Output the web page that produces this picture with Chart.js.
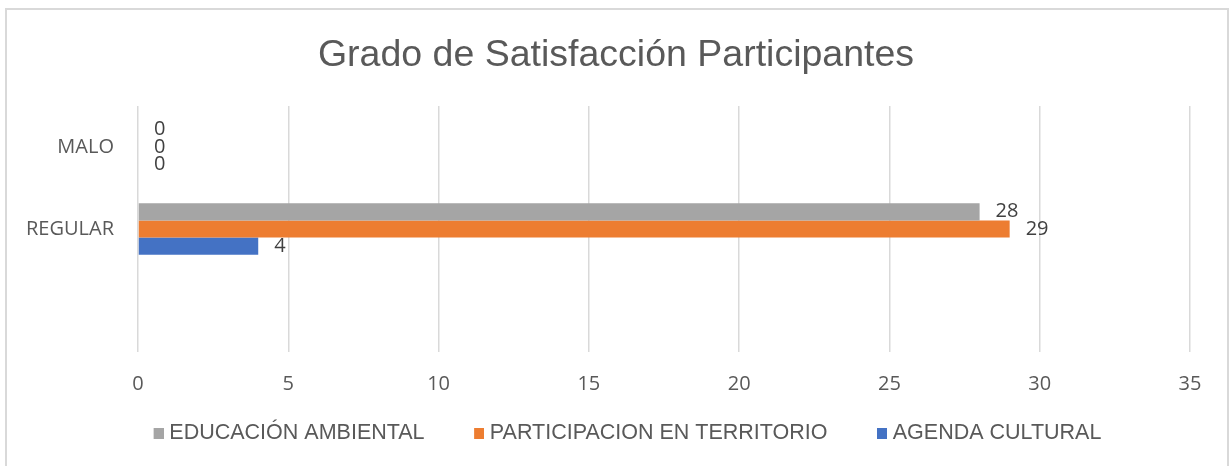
<!DOCTYPE html>
<html>
<head>
<meta charset="utf-8">
<script src="https://cdn.jsdelivr.net/npm/chart.js@4"></script>
<style>
    body { margin: 0; background: #ffffff; }
</style>
</head>
<body>
<canvas id="grafica" width="1232" height="466"></canvas>
<script>
const categorias = ['MALO', 'REGULAR', '']
const educacionAmbiental = [0, 28, null]
const participacionTerritorio = [0, 29, null]
const agendaCultural = [0, 4, null]
const ticksX = [0, 5, 10, 15, 20, 25, 30, 35]

// cuadrito de la leyenda con espacio transparente a la izquierda
function imagenLeyenda(color) {
    const c = document.createElement('canvas')
    c.width = 38
    c.height = 11
    const g = c.getContext('2d')
    g.fillStyle = color
    g.fillRect(28, 0, 10, 11)
    return c
}

// marco gris alrededor del grafico
const marco = {
    id: 'marco',
    beforeDraw(chart) {
        const ctx = chart.ctx
        ctx.save()
        ctx.strokeStyle = '#d9d9d9'
        ctx.lineWidth = 2
        ctx.strokeRect(6, 9, 1222, 470)
        ctx.restore()
    }
}

// etiquetas con el valor al final de cada barra
const etiquetas = {
    id: 'etiquetas',
    afterDatasetsDraw(chart) {
        const ctx = chart.ctx
        ctx.save()
        ctx.font = '20px "Open Sans"'
        ctx.fillStyle = '#404040'
        ctx.textAlign = 'left'
        ctx.textBaseline = 'middle'
        chart.data.datasets.forEach((ds, i) => {
            const meta = chart.getDatasetMeta(i)
            meta.data.forEach((barra, j) => {
                const valor = ds.data[j]
                if (valor === null || valor === undefined) return
                ctx.fillText(valor, barra.x + 16, barra.y)
            })
        })
        ctx.restore()
    }
}

let ctx = document.getElementById('grafica').getContext('2d')

let grafica = new Chart(ctx, {
    type: 'bar',
    data: {
        labels: categorias,
        datasets: [{
            label: 'EDUCACIÓN AMBIENTAL',
            data: educacionAmbiental,
            backgroundColor: '#a5a5a5',
            pointStyle: imagenLeyenda('#a5a5a5')
        }, {
            label: 'PARTICIPACION EN TERRITORIO',
            data: participacionTerritorio,
            backgroundColor: '#ed7d31',
            pointStyle: imagenLeyenda('#ed7d31')
        }, {
            label: 'AGENDA CULTURAL',
            data: agendaCultural,
            backgroundColor: '#4472c4',
            pointStyle: imagenLeyenda('#4472c4')
        }]
    },
    options: {
        indexAxis: 'y',
        responsive: false,
        animation: false,
        devicePixelRatio: 1,
        categoryPercentage: 0.63,
        barPercentage: 1,
        layout: {
            padding: { left: 0, right: 0, top: 0, bottom: 12 }
        },
        plugins: {
            title: {
                display: true,
                text: 'Grado de Satisfacción Participantes',
                color: '#595959',
                font: { family: '"Liberation Sans", Arial', size: 37.5, weight: 'normal' },
                padding: { top: 33, bottom: 28 }
            },
            legend: {
                position: 'bottom',
                labels: {
                    usePointStyle: true,
                    pointStyleWidth: 28,
                    boxHeight: 11,
                    padding: 26.5,
                    color: '#595959',
                    font: { family: '"Liberation Sans", Arial', size: 21.5 }
                }
            },
            tooltip: { enabled: false }
        },
        scales: {
            x: {
                min: 0,
                max: 35,
                afterBuildTicks: (escala) => {
                    escala.ticks = ticksX.map(v => ({ value: v }))
                },
                afterFit: (escala) => { escala.height = 44 },
                grid: { color: '#d9d9d9', lineWidth: 1.5, drawTicks: false },
                border: { display: false },
                ticks: {
                    color: '#595959',
                    padding: 20,
                    font: { family: '"Open Sans"', size: 20 }
                }
            },
            y: {
                afterFit: (escala) => { escala.width = 138 },
                grid: { display: false, drawTicks: false },
                border: { display: false },
                ticks: {
                    color: '#595959',
                    padding: 24,
                    font: { family: '"Open Sans"', size: 20 }
                }
            },
            // margen vacio a la derecha del area de las barras
            margenDerecho: {
                type: 'linear',
                position: 'right',
                grid: { display: false },
                border: { display: false },
                ticks: { display: false },
                afterFit: (escala) => { escala.width = 42 }
            }
        }
    },
    plugins: [marco, etiquetas]
})
</script>
</body>
</html>
